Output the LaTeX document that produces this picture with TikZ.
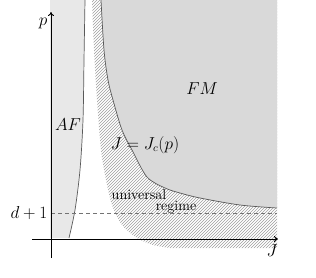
\documentclass[tikz,border=0pt]{standalone}
\usetikzlibrary{patterns,arrows.meta}
\begin{document}
\begin{tikzpicture}[x=1pt,y=-1pt,
  mathlbl/.style={font=\fontsize{16}{19}\selectfont, inner sep=0pt},
  txtlbl/.style={font=\fontsize{14.3}{17}\selectfont, inner sep=0pt},
  axisline/.style={line width=0.9pt, -{To[length=4pt,width=6pt]}},
  bound/.style={draw=black!65, line width=0.7pt},
  afregion/.style={fill=black!9},
  fmregion/.style={fill=black!15},
  hatchregion/.style={pattern=north east lines, pattern color=black!38},
  dimline/.style={draw=black!55, line width=0.7pt, dash pattern=on 4pt off 3pt}]
\useasboundingbox (0,0) rectangle (316,277);
% AF region
\fill[afregion] (50,0) -- plot[smooth] coordinates {(85,0) (84,60) (83,120) (80,170) (75,210) (69,238)} -- (50,238) -- cycle;
% hatched universal regime
\fill[hatchregion] plot[smooth] coordinates {(92,0) (94,50) (97,100) (101,150) (106,180) (112,205) (122,225) (137,238) (153,245) (170,248)} -- (277,248) -- (277,0) -- cycle;
% FM region
\fill[fmregion] plot[smooth] coordinates {(101,0) (104,50) (108,80) (113,100) (122,130) (132,150) (147,177) (165,188) (180,193) (200,198) (240,205) (277,208)} -- (277,0) -- cycle;
% boundaries
\draw[bound] plot[smooth] coordinates {(85,0) (84,60) (83,120) (80,170) (75,210) (69,238)};
\draw[bound] plot[smooth] coordinates {(101,0) (104,50) (108,80) (113,100) (122,130) (132,150) (147,177) (165,188) (180,193) (200,198) (240,205) (277,208)};
% coordinates
\coordinate (ybot) at (51,258);
\coordinate (ytop) at (51,12);
\coordinate (xleft) at (32,239);
\coordinate (xright) at (278,239);
\coordinate (dstart) at (51,213);
\coordinate (dend) at (277,213);
% dashed line
\draw[dimline] (dstart) -- (dend);
% axes
\draw[axisline] (ybot) -- (ytop);
\draw[axisline] (xleft) -- (xright);
% labels
\node[mathlbl] (plbl) at (43,23) {$p$};
\node[mathlbl] (jlbl) at (272,251) {$J$};
\node[mathlbl] (af) at (68,125) {$AF$};
\node[mathlbl, font=\fontsize{17}{20}\selectfont] (fm) at (202,89) {$FM$};
\node[mathlbl] (jc) at (145,145) {$J = J_c(p)$};
\node[mathlbl] (dlbl) at (29,213) {$d+1$};
\node[txtlbl] (univ) at (139,195) {universal};
\node[txtlbl] (regime) at (176,207) {regime};
\end{tikzpicture}
\end{document}
